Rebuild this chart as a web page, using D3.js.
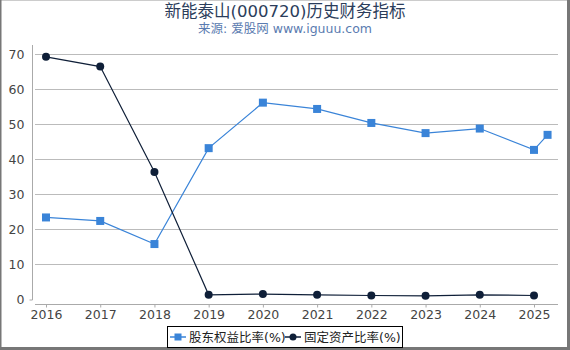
<!DOCTYPE html>
<html><head><meta charset="utf-8">
<script src="https://cdn.jsdelivr.net/npm/d3@7"></script>
<style>body{margin:0;background:#fff}svg{display:block;font-family:"DejaVu Sans","Noto Sans CJK SC",sans-serif}</style>
</head><body><svg id="c" width="570" height="350"></svg>
<script>
const years = [2016,2017,2018,2019,2020,2021,2022,2023,2024,2025];
const equityX = [2016,2017,2018,2019,2020,2021,2022,2023,2024,2025,2025.25];
const equityRatio = [23.3,22.3,15.7,43.1,56.1,54.3,50.3,47.4,48.7,42.6,46.9];
const fixedAssetRatio = [69.2,66.4,36.3,1.2,1.4,1.2,1.0,0.9,1.2,1.0];
const yTicks = [0,10,20,30,40,50,60,70];
const seriesNames = ["股东权益比率(%)","固定资产比率(%)"];

const svg = d3.select("#c");
// frame
svg.append("rect").attr("x",0.5).attr("y",0.5).attr("width",568).attr("height",347).attr("fill","none").attr("stroke","#ccc");
svg.append("line").attr("x1",0.75).attr("x2",0.75).attr("y1",0).attr("y2",349).attr("stroke","#777").attr("stroke-width",1.5);
svg.append("line").attr("x1",568.5).attr("x2",568.5).attr("y1",0).attr("y2",349).attr("stroke","#777").attr("stroke-width",3);
svg.append("line").attr("x1",0).attr("x2",570).attr("y1",348.5).attr("y2",348.5).attr("stroke","#777").attr("stroke-width",3);

svg.append("text").attr("x",285).attr("y",17).attr("text-anchor","middle").attr("font-size",16.5).attr("fill","#2b3d5b").text("新能泰山(000720)历史财务指标");
svg.append("text").attr("x",285).attr("y",33).attr("text-anchor","middle").attr("font-size",12.5).attr("fill","#5a7bb0").text("来源: 爱股网 www.iguuu.com");

const x = d3.scaleLinear().domain([2016,2025]).range([46,534]);
const y = d3.scaleLinear().domain([0,70]).range([299,54]);

// gridlines
svg.append("g").selectAll("line").data(yTicks.filter(d=>d>0)).join("line")
  .attr("x1",35).attr("x2",558).attr("y1",d=>Math.round(y(d))+0.5).attr("y2",d=>Math.round(y(d))+0.5)
  .attr("stroke","#bbb").attr("stroke-width",1);

// y axis
const ya = svg.append("g").attr("transform","translate(32.5,0)")
  .call(d3.axisLeft(y).tickValues(yTicks).tickSize(0).tickPadding(8));
ya.select(".domain").remove();
ya.append("line").attr("x1",0).attr("x2",0).attr("y1",45).attr("y2",y(0)+1).attr("stroke","#aaa");
ya.append("line").attr("x1",-3).attr("x2",0).attr("y1",y(0)+1).attr("y2",y(0)+1).attr("stroke","#aaa");
ya.selectAll("text").attr("font-size",12.5).attr("fill","#444").attr("font-family","DejaVu Sans");

// x axis
const xa = svg.append("g").attr("transform","translate(0,304.5)")
  .call(d3.axisBottom(x).tickValues(years).tickFormat(d3.format("d")).tickSize(3).tickPadding(3));
xa.select(".domain").attr("d","M35,0H558").attr("stroke","#aaa");
xa.selectAll(".tick line").attr("stroke","#aaa");
xa.selectAll("text").attr("font-size",12.5).attr("fill","#444").attr("font-family","DejaVu Sans");

const blue = "#3a84d8", dark = "#0f1f38";
const eqData = equityX.map((d,i)=>[d,equityRatio[i]]);
const faData = years.map((d,i)=>[d,fixedAssetRatio[i]]);
const line = d3.line().x(d=>x(d[0])).y(d=>y(d[1]));

svg.append("path").attr("d",line(eqData)).attr("fill","none").attr("stroke",blue).attr("stroke-width",1.2);
svg.append("path").attr("d",line(faData)).attr("fill","none").attr("stroke",dark).attr("stroke-width",1.2);
svg.append("g").selectAll("rect").data(eqData).join("rect")
  .attr("x",d=>x(d[0])-4).attr("y",d=>y(d[1])-4).attr("width",8).attr("height",8).attr("fill",blue);
svg.append("g").selectAll("circle").data(faData).join("circle")
  .attr("cx",d=>x(d[0])).attr("cy",d=>y(d[1])).attr("r",4).attr("fill",dark);

// legend
const lg = svg.append("g");
lg.append("rect").attr("x",167.5).attr("y",326.5).attr("width",235).attr("height",21).attr("fill","#fff").attr("stroke","#000");
lg.append("line").attr("x1",170).attr("x2",186).attr("y1",337).attr("y2",337).attr("stroke",blue).attr("stroke-width",1.5);
lg.append("rect").attr("x",174.5).attr("y",333.5).attr("width",7).attr("height",7).attr("fill",blue);
lg.append("text").attr("x",189).attr("y",342).attr("font-size",12.5).attr("fill","#222").text(seriesNames[0]);
lg.append("line").attr("x1",285).attr("x2",301).attr("y1",337).attr("y2",337).attr("stroke",dark).attr("stroke-width",1.5);
lg.append("circle").attr("cx",293).attr("cy",337).attr("r",3.5).attr("fill",dark);
lg.append("text").attr("x",304).attr("y",342).attr("font-size",12.5).attr("fill","#222").text(seriesNames[1]);
</script></body></html>
